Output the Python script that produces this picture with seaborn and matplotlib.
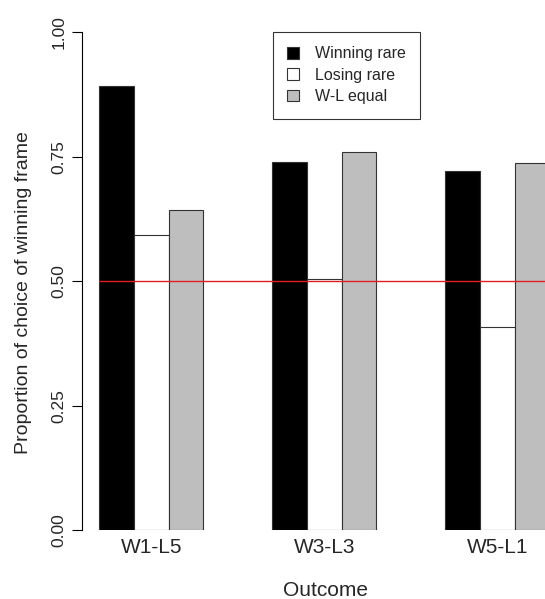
import pandas as pd
import matplotlib
matplotlib.use("Agg")
import matplotlib.pyplot as plt
import seaborn as sns

# values
outcomes = ["W1-L5", "W3-L3", "W5-L1"]
conditions = ["Winning rare", "Losing rare", "W-L equal"]
winning_rare = [0.891, 0.740, 0.721]
losing_rare = [0.592, 0.504, 0.408]
wl_equal = [0.643, 0.759, 0.738]

df = pd.DataFrame({
    "Outcome": outcomes * 3,
    "Condition": [c for c in conditions for _ in outcomes],
    "Proportion": winning_rare + losing_rare + wl_equal,
})

sns.set_style("white")
plt.rcParams["font.family"] = ["Liberation Sans", "DejaVu Sans"]

fig = plt.figure(figsize=(5.45, 5.99), dpi=100)
# axes run past the right edge on purpose, the reference is cut off there
ax = fig.add_axes([0.150, 0.115, 0.953, 0.8314])

sns.barplot(data=df, x="Outcome", y="Proportion", hue="Condition",
            hue_order=conditions, palette=["black", "white", "#BEBEBE"],
            width=0.6, edgecolor="#333333", linewidth=0.8, ax=ax)

ax.hlines(0.5, -0.3, 2.6, color="#E02020", linewidth=1.0, zorder=5)

ax.set_xlim(-0.402, 2.6)
ax.set_ylim(0, 1)
ax.set_yticks([0, 0.25, 0.5, 0.75, 1.0])
ax.set_yticklabels(["0.00", "0.25", "0.50", "0.75", "1.00"], rotation=90, va="center")
for side in ["top", "right", "bottom"]:
    ax.spines[side].set_visible(False)
ax.spines["left"].set_color("black")
ax.spines["left"].set_linewidth(0.8)
ax.tick_params(axis="y", length=7, width=0.8, color="black", labelsize=12.5, pad=4, left=True)
ax.tick_params(axis="x", length=0, labelsize=15, pad=6)
ax.set_xlabel("Outcome", fontsize=15, labelpad=17)
ax.set_ylabel("Proportion of choice of winning frame", fontsize=14, labelpad=14)
# centre the axis titles where the reference has them
ax.xaxis.label.set_x(0.469)
ax.yaxis.label.set_y(0.478)

handles, labels = ax.get_legend_handles_labels()
ax.legend(handles, labels, loc="upper left", bbox_to_anchor=(273 / 545, 1 - 32 / 599),
          bbox_transform=fig.transFigure, fontsize=11.5, frameon=True, fancybox=False,
          edgecolor="black", handlelength=0.75, handleheight=0.75, handletextpad=0.95,
          borderpad=0.9, labelspacing=0.4, borderaxespad=0)
ax.get_legend().get_frame().set_linewidth(0.8)

fig.savefig("out.png", dpi=100)
